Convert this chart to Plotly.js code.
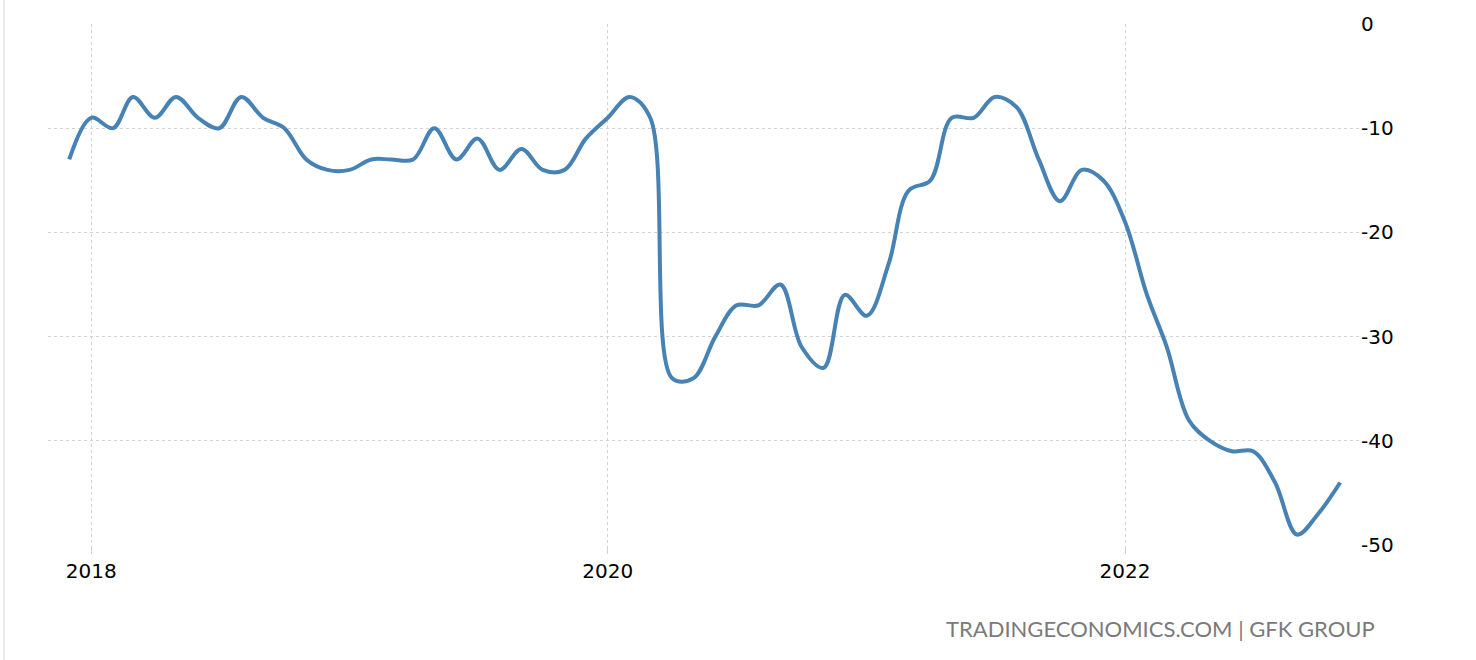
<!DOCTYPE html>
<html>
<head>
<meta charset="utf-8">
<script src="https://cdn.plot.ly/plotly-3.0.1.min.js"></script>
<style>
  html, body { margin: 0; padding: 0; background: #ffffff; }
  #chart { width: 1476px; height: 660px; }
</style>
</head>
<body>
<div id="chart"></div>
<script>
// Monthly dates (first of month), Dec 2017 – Nov 2022
const months = [
  '2017-12-01',
  '2018-01-01','2018-02-01','2018-03-01','2018-04-01','2018-05-01','2018-06-01',
  '2018-07-01','2018-08-01','2018-09-01','2018-10-01','2018-11-01','2018-12-01',
  '2019-01-01','2019-02-01','2019-03-01','2019-04-01','2019-05-01','2019-06-01',
  '2019-07-01','2019-08-01','2019-09-01','2019-10-01','2019-11-01','2019-12-01',
  '2020-01-01','2020-02-01','2020-03-01','2020-04-01','2020-05-01','2020-06-01',
  '2020-07-01','2020-08-01','2020-09-01','2020-10-01','2020-11-01','2020-12-01',
  '2021-01-01','2021-02-01','2021-03-01','2021-04-01','2021-05-01','2021-06-01',
  '2021-07-01','2021-08-01','2021-09-01','2021-10-01','2021-11-01','2021-12-01',
  '2022-01-01','2022-02-01','2022-03-01','2022-04-01','2022-05-01','2022-06-01',
  '2022-07-01','2022-08-01','2022-09-01','2022-10-01','2022-11-01'
];
// GfK consumer confidence values
const confidence = [
  -13,
  -9, -10, -7, -9, -7, -9, -10, -7, -9, -10, -13, -14,
  -14, -13, -13, -13, -10, -13, -11, -14, -12, -14, -14, -11,
  -9, -7, -9, -34, -34, -30, -27, -27, -25, -31, -33, -26,
  -28, -23, -16, -15, -9, -9, -7, -8, -13, -17, -14, -15,
  -19, -26, -31, -38, -40, -41, -41, -44, -49, -47, -44
];
const xTickVals = ['2018-01-01', '2020-01-01', '2022-01-01'];
const xTickText = ['2018', '2020', '2022'];
const yTickVals = [0, -10, -20, -30, -40, -50];
const yTickText = ['0', '-10', '-20', '-30', '-40', '-50'];
const sourceText = 'TRADINGECONOMICS.COM | GFK GROUP';

const trace = {
  x: months,
  y: confidence,
  type: 'scatter',
  mode: 'lines',
  line: { color: '#4682b4', width: 4, shape: 'spline', smoothing: 1 },
  hoverinfo: 'x+y'
};

const layout = {
  width: 1476,
  height: 660,
  margin: { l: 48, r: 116, t: 24, b: 115, pad: 0 },
  paper_bgcolor: '#ffffff',
  plot_bgcolor: '#ffffff',
  showlegend: false,
  font: { family: 'DejaVu Sans, sans-serif', size: 20, color: '#000000' },
  xaxis: {
    type: 'date',
    range: ['2017-11-01', '2022-11-29'],
    tickvals: xTickVals,
    ticktext: xTickText,
    showgrid: true,
    gridcolor: '#d2d2d2',
    griddash: 'dot',
    gridwidth: 1,
    ticks: 'outside',
    ticklen: 8,
    tickcolor: '#d2d2d2',
    tickwidth: 1,
    showline: false,
    zeroline: false,
    tickfont: { family: 'DejaVu Sans, sans-serif', size: 20, color: '#000000' }
  },
  yaxis: {
    side: 'right',
    range: [-50, 0],
    tickvals: yTickVals,
    ticktext: yTickText,
    showgrid: true,
    gridcolor: '#d2d2d2',
    griddash: 'dot',
    gridwidth: 1,
    ticks: '',
    showline: false,
    zeroline: false,
    tickfont: { family: 'DejaVu Sans, sans-serif', size: 20, color: '#000000' }
  },
  annotations: [{
    text: sourceText,
    xref: 'paper', yref: 'paper',
    x: 1.0128, y: -0.161,
    xanchor: 'right', yanchor: 'middle',
    showarrow: false,
    font: { family: 'Lato, sans-serif', size: 22, color: '#7a7a7a' }
  }],
  shapes: [{
    type: 'line',
    xref: 'paper', yref: 'paper',
    x0: -0.0335, x1: -0.0335, y0: -0.23, y1: 1.05,
    line: { color: '#ececec', width: 2 }
  }]
};

Plotly.newPlot('chart', [trace], layout, { displayModeBar: false, staticPlot: true });
</script>
</body>
</html>
